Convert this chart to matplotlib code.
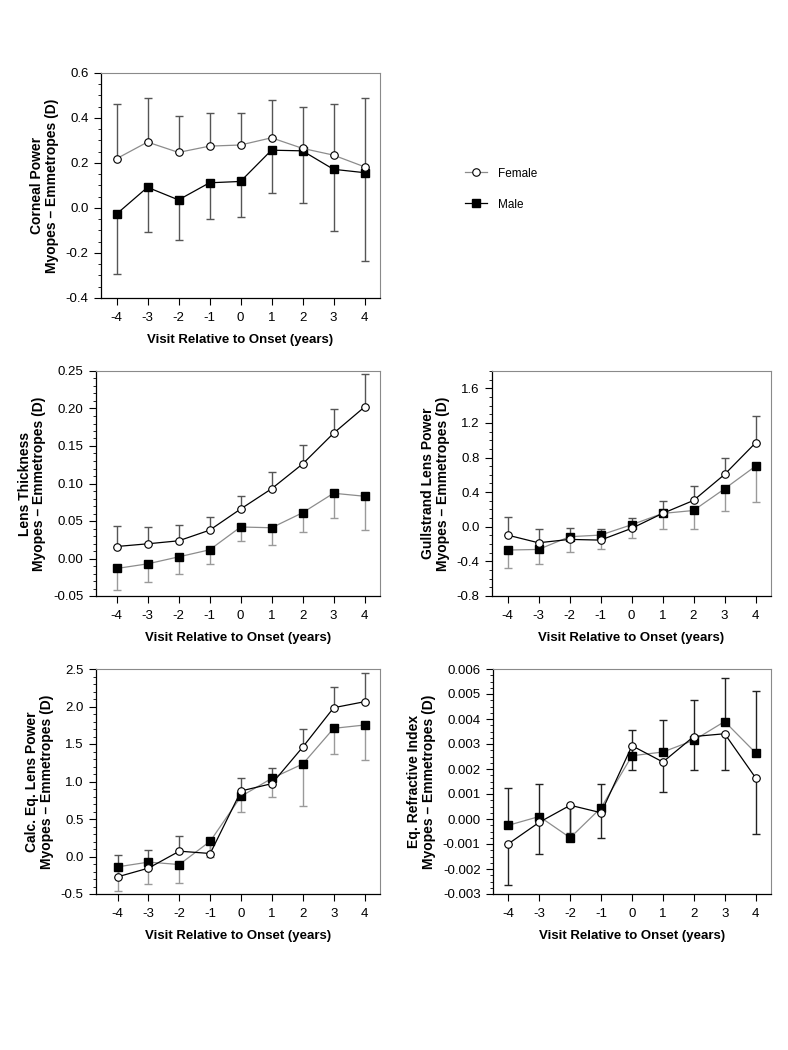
import matplotlib
matplotlib.use("Agg")
import matplotlib.pyplot as plt
from matplotlib.lines import Line2D
from matplotlib.ticker import MultipleLocator, FormatStrFormatter
import numpy as np

plt.rcParams['font.family'] = ['Liberation Sans', 'DejaVu Sans']

visits = [-4, -3, -2, -1, 0, 1, 2, 3, 4]
x_label = "Visit Relative to Onset (years)"

# Panel 1: Corneal power
cp_female = [0.219, 0.293, 0.247, 0.275, 0.280, 0.312, 0.265, 0.235, 0.183]
cp_female_hi = [0.460, 0.488, 0.408, 0.420, 0.420, 0.479, 0.450, 0.464, 0.491]
cp_male = [-0.027, 0.092, 0.036, 0.112, 0.118, 0.257, 0.254, 0.172, 0.157]
cp_male_lo = [-0.293, -0.107, -0.141, -0.049, -0.040, 0.065, 0.024, -0.101, -0.237]

# Panel 2: Lens thickness
lt_female = [0.016, 0.0196, 0.0236, 0.0378, 0.066, 0.093, 0.126, 0.167, 0.202]
lt_female_hi = [0.044, 0.042, 0.045, 0.056, 0.084, 0.115, 0.152, 0.199, 0.246]
lt_male = [-0.0133, -0.0071, 0.0022, 0.0116, 0.042, 0.041, 0.061, 0.087, 0.083]
lt_male_lo = [-0.042, -0.031, -0.020, -0.0076, 0.023, 0.018, 0.035, 0.054, 0.038]

# Panel 3: Gullstrand lens power
gl_female = [-0.096, -0.185, -0.146, -0.154, -0.019, 0.154, 0.304, 0.604, 0.969]
gl_female_hi = [0.108, -0.031, -0.012, -0.031, 0.104, 0.296, 0.473, 0.800, 1.285]
gl_male = [-0.269, -0.262, -0.115, -0.096, 0.023, 0.154, 0.188, 0.438, 0.700]
gl_male_lo = [-0.481, -0.435, -0.288, -0.254, -0.135, -0.031, -0.031, 0.177, 0.288]

# Panel 4: Calc. Eq. lens power
cl_female = [-0.271, -0.155, 0.071, 0.040, 0.874, 0.972, 1.460, 1.984, 2.064]
cl_female_hi = [0.022, 0.084, 0.271, 0.190, 1.047, 1.180, 1.704, 2.264, 2.446]
cl_male = [-0.138, -0.075, -0.107, 0.204, 0.803, 1.043, 1.234, 1.709, 1.753]
cl_male_lo = [-0.457, -0.360, -0.351, -0.004, 0.599, 0.794, 0.679, 1.371, 1.283]

# Panel 5: Eq. refractive index
ri_female = [-0.00099, -0.00013, 0.00055, 0.00025, 0.00293, 0.00228, 0.00330, 0.00341, 0.00165]
ri_female_lo = [-0.00265, -0.00138, -0.00056, -0.00077, 0.00198, 0.00107, 0.00196, 0.00198, -0.00060]
ri_male = [-0.00025, 0.00010, -0.00075, 0.00045, 0.00253, 0.00268, 0.00315, 0.00390, 0.00265]
ri_male_hi = [0.00125, 0.00140, 0.00050, 0.00140, 0.00357, 0.00395, 0.00478, 0.00566, 0.00511]

W, H = 788, 1050
fig = plt.figure(figsize=(W / 100, H / 100), dpi=100)


def add_ax(x0, x1, y0, y1):
    return fig.add_axes([x0 / W, 1 - y1 / H, (x1 - x0) / W, (y1 - y0) / H])


def style(ax, xlim, ylim, major, minor, fmt, ylabel):
    ax.set_xlim(*xlim)
    ax.set_ylim(*ylim)
    ax.set_xticks(visits)
    ax.set_xticklabels([str(v) for v in visits])
    ax.yaxis.set_major_locator(MultipleLocator(major))
    ax.yaxis.set_minor_locator(MultipleLocator(minor))
    ax.yaxis.set_major_formatter(FormatStrFormatter(fmt))
    ax.tick_params(axis='both', which='major', direction='out', length=5,
                   width=0.8, labelsize=9.5, colors='black')
    ax.tick_params(axis='y', which='minor', direction='out', length=2.5, width=0.6)
    ax.tick_params(axis='x', pad=5)
    ax.tick_params(axis='y', pad=4)
    for s in ['left', 'bottom']:
        ax.spines[s].set_color('black')
        ax.spines[s].set_linewidth(0.9)
    for s in ['top', 'right']:
        ax.spines[s].set_color('#8a8a8a')
        ax.spines[s].set_linewidth(0.8)
    ax.set_xlabel(x_label, fontsize=9.5, fontweight='bold', labelpad=7)
    ax.set_ylabel(ylabel, fontsize=10, fontweight='bold', labelpad=5,
                  linespacing=1.05)


def draw(ax, fem, fem_err, male, male_err, fem_line, male_line, fem_ecol, male_ecol):
    ax.errorbar(visits, fem, yerr=fem_err, fmt='none', ecolor=fem_ecol,
                elinewidth=1.0, capsize=3, capthick=1.0, zorder=2)
    ax.errorbar(visits, male, yerr=male_err, fmt='none', ecolor=male_ecol,
                elinewidth=1.0, capsize=3, capthick=1.0, zorder=2)
    ax.plot(visits, male, color=male_line, lw=0.9, marker='s', ms=5.4,
            mfc='black', mec='black', zorder=3)
    ax.plot(visits, fem, color=fem_line, lw=0.9, marker='o', ms=5.4,
            mfc='white', mec='black', mew=0.8, zorder=4)


def up(vals, hi):
    v = np.array(vals); h = np.array(hi)
    return [np.zeros_like(v), h - v]


def down(vals, lo):
    v = np.array(vals); l = np.array(lo)
    return [v - l, np.zeros_like(v)]


# Panel 1
ax1 = add_ax(101, 380, 73, 298)
draw(ax1, cp_female, up(cp_female, cp_female_hi), cp_male, down(cp_male, cp_male_lo),
     '#8c8c8c', 'black', '#555555', '#555555')
style(ax1, (-4.5, 4.5), (-0.4, 0.6), 0.2, 0.05, '%.1f',
      "Corneal Power\nMyopes \u2013 Emmetropes (D)")

# Panel 2
ax2 = add_ax(96, 380, 371, 596)
draw(ax2, lt_female, up(lt_female, lt_female_hi), lt_male, down(lt_male, lt_male_lo),
     'black', '#8c8c8c', '#555555', '#9a9a9a')
style(ax2, (-4.67, 4.5), (-0.05, 0.25), 0.05, 0.01, '%.2f',
      "Lens Thickness\nMyopes \u2013 Emmetropes (D)")

# Panel 3
ax3 = add_ax(492, 771, 371, 596)
draw(ax3, gl_female, up(gl_female, gl_female_hi), gl_male, down(gl_male, gl_male_lo),
     'black', '#8c8c8c', '#555555', '#9a9a9a')
style(ax3, (-4.5, 4.5), (-0.8, 1.8), 0.4, 0.1, '%.1f',
      "Gullstrand Lens Power\nMyopes \u2013 Emmetropes (D)")
ax3.set_yticks([-0.8, -0.4, 0.0, 0.4, 0.8, 1.2, 1.6])

# Panel 4
ax4 = add_ax(96, 380, 669, 894)
draw(ax4, cl_female, up(cl_female, cl_female_hi), cl_male, down(cl_male, cl_male_lo),
     'black', '#8c8c8c', '#555555', '#9a9a9a')
style(ax4, (-4.7, 4.5), (-0.5, 2.5), 0.5, 0.1, '%.1f',
      "Calc. Eq. Lens Power\nMyopes \u2013 Emmetropes (D)")

# Panel 5
ax5 = add_ax(493, 771, 669, 894)
draw(ax5, ri_female, down(ri_female, ri_female_lo), ri_male, up(ri_male, ri_male_hi),
     'black', '#8c8c8c', '#222222', '#222222')
style(ax5, (-4.5, 4.5), (-0.003, 0.006), 0.001, 0.00025, '%.3f',
      "Eq. Refractive Index\nMyopes \u2013 Emmetropes (D)")

# Legend
handles = [
    Line2D([], [], color='#8c8c8c', lw=0.9, marker='o', ms=5.4, mfc='white',
           mec='black', mew=0.8),
    Line2D([], [], color='black', lw=0.9, marker='s', ms=5.4, mfc='black', mec='black'),
]
fig.legend(handles, ['Female', 'Male'], loc='upper left',
           bbox_to_anchor=(454 / W, 1 - 157 / H), frameon=False, fontsize=8.5,
           handlelength=1.9, handletextpad=0.9, labelspacing=1.6)

fig.savefig("out.png", dpi=100, facecolor='white')
